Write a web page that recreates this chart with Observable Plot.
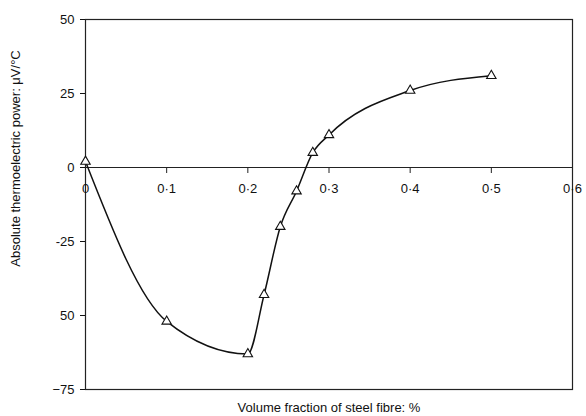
<!DOCTYPE html>
<html>
<head>
<meta charset="utf-8">
<script src="https://cdn.jsdelivr.net/npm/d3@7"></script>
<script src="https://cdn.jsdelivr.net/npm/@observablehq/plot@0.6"></script>
<style>
  body { margin: 0; background: #fff; }
  svg { font-family: "Liberation Sans", Arial, sans-serif; }
</style>
</head>
<body>
<div id="chart"></div>
<script>
const fraction = [0, 0.1, 0.2, 0.22, 0.24, 0.26, 0.28, 0.3, 0.4, 0.5];
const power = [2, -52, -63, -43, -20, -8, 5, 11, 26, 31];
const xTicks = [0, 0.1, 0.2, 0.3, 0.4, 0.5, 0.6];
const xTickLabels = ["0", "0·1", "0·2", "0·3", "0·4", "0·5", "0·6"];
const yTicks = [50, 25, 0, -25, -50, -75];
const yTickLabels = ["50", "25", "0", "-25", "50", "−75"];
const yTitle = "Absolute thermoelectric power: μV/°C";
const xTitle = "Volume fraction of steel fibre: %";

const data = fraction.map((x, i) => ({x, y: power[i]}));
const xt = xTicks.map((x, i) => ({x, label: xTickLabels[i]}));

const chart = Plot.plot({
  width: 586,
  height: 416,
  marginLeft: 85,
  marginRight: 14,
  marginTop: 19,
  marginBottom: 27,
  style: {fontSize: "13px", fontFamily: "Liberation Sans, Arial, sans-serif", color: "#111"},
  x: {domain: [0, 0.6]},
  y: {domain: [-75, 50]},
  marks: [
    Plot.frame({stroke: "#222", strokeWidth: 1.2}),
    Plot.axisY({
      ticks: yTicks,
      tickSize: 5,
      tickPadding: 6,
      tickFormat: (d) => yTickLabels[yTicks.indexOf(d)],
      label: null,
      fontSize: 13,
      fill: "#111"
    }),
    Plot.text([yTitle], {frameAnchor: "left", textAnchor: "middle", rotate: -90, dx: -70, dy: -46, fontSize: 13, fill: "#111"}),
    Plot.axisX({
      ticks: [],
      label: xTitle,
      labelAnchor: "center",
      labelArrow: "none",
      labelOffset: 22,
      fontSize: 13,
      fill: "#111"
    }),
    Plot.ruleY([0], {stroke: "#222", strokeWidth: 1.2}),
    Plot.ruleX(xt, {x: "x", y1: 0, y2: 0, insetBottom: -6, stroke: "#222"}),
    Plot.text(xt, {x: "x", y: 0, text: "label", dy: 21, fontSize: 13, fill: "#111"}),
    Plot.line(data, {x: "x", y: "y", curve: "monotone-x", stroke: "#111", strokeWidth: 1.5}),
    Plot.dot(data, {x: "x", y: "y", symbol: "triangle", r: 3.5, fill: "white", stroke: "#111", strokeWidth: 1.1})
  ]
});
document.getElementById("chart").appendChild(chart);
</script>
</body>
</html>
